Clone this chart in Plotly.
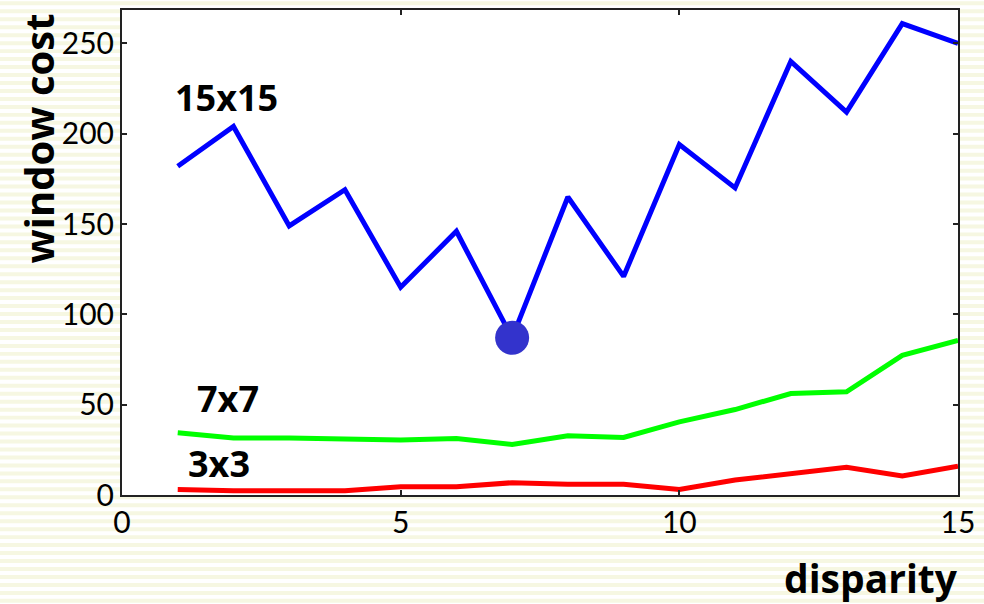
import plotly.graph_objects as go

disparity = list(range(1, 16))
cost_15x15 = [182, 204, 149, 169, 115, 146, 87, 165, 121, 194, 170, 240, 212, 261, 250]
cost_7x7 = [34.4, 31.5, 31.5, 31.0, 30.4, 31.3, 28.0, 32.8, 31.9, 40.5, 47.3, 56.2, 57.1, 77.3, 85.6]
cost_3x3 = [3.1, 2.4, 2.4, 2.4, 4.6, 4.6, 6.8, 5.9, 5.9, 3.1, 8.3, 11.6, 15.3, 10.5, 16.0]
min_point = (7, 87)

x_ticks = [0, 5, 10, 15]
y_ticks = [0, 50, 100, 150, 200, 250]

W, H = 984, 604
L, R, T, B = 122, 26, 8, 109
PH = H - T - B

def py2paper(py):
    return (H - B - py) / PH

def px2paper(px):
    return (px - L) / (W - L - R)

fig = go.Figure()
fig.add_trace(go.Scatter(x=disparity, y=cost_15x15, mode="lines",
                         line=dict(color="#0000ff", width=5), showlegend=False))
fig.add_trace(go.Scatter(x=disparity, y=cost_7x7, mode="lines",
                         line=dict(color="#00ff00", width=5), showlegend=False))
fig.add_trace(go.Scatter(x=disparity, y=cost_3x3, mode="lines",
                         line=dict(color="#ff0000", width=5), showlegend=False))
fig.add_trace(go.Scatter(x=[min_point[0]], y=[min_point[1]], mode="markers",
                         marker=dict(color="#3333cc", size=34, line=dict(width=0)),
                         showlegend=False))

shapes = []
for k in range(0, 80):
    y0 = 8 * k - 0.7
    y1 = y0 + 4
    shapes.append(dict(type="rect", xref="paper", yref="paper",
                       x0=px2paper(0), x1=px2paper(W),
                       y0=py2paper(y1), y1=py2paper(y0),
                       fillcolor="#f6f7e2", line=dict(width=0), layer="below"))
shapes.append(dict(type="rect", xref="paper", yref="paper", x0=0, x1=1, y0=0, y1=1,
                   fillcolor="white", line=dict(width=0), layer="below"))

bold = "Open Sans"
def ann(x, y, text, size, xref="x", yref="y", angle=0):
    return dict(x=x, y=y, xref=xref, yref=yref, text="<b>%s</b>" % text,
                showarrow=False, xanchor="center", yanchor="middle", textangle=angle,
                font=dict(family=bold, size=size, color="black"))

annotations = [
    ann(1.88, 220, "15x15", 36),
    ann(1.91, 53.6, "7x7", 36),
    ann(1.74, 17.7, "3x3", 36),
    ann(px2paper(38), py2paper(137), "window cost", 40, "paper", "paper", -90),
    ann(px2paper(871), py2paper(578), "disparity", 39, "paper", "paper"),
]

axis_common = dict(showline=True, linecolor="#222222", linewidth=2, mirror="ticks",
                   ticks="inside", ticklen=5, tickcolor="#222222", tickwidth=1.5,
                   showgrid=False, zeroline=False,
                   tickfont=dict(family="Lato", size=30, color="black"))

fig.update_layout(
    width=W, height=H,
    margin=dict(l=L, r=R, t=T, b=B),
    paper_bgcolor="white", plot_bgcolor="white",
    shapes=shapes, annotations=annotations,
    xaxis=dict(range=[0, 15], tickvals=x_ticks, **axis_common),
    yaxis=dict(range=[0, 268.5], tickvals=y_ticks, **axis_common),
)
fig.write_html("out.html", config={"displayModeBar": False},
               post_script="document.body.style.margin='0';")
